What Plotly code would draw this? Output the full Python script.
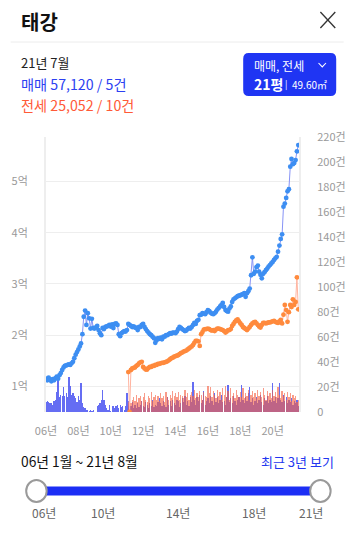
import plotly.graph_objects as go
import pandas as pd

# ---------------- data ----------------
months = pd.date_range("2006-01-01", "2021-08-01", freq="MS")  # 188 months

# 매매 average price (억)
sale_price = [
    1.15, 1.12, 1.17, 1.13, 1.10, 1.14, 1.12, 1.16, 1.19, 1.15, 1.22, 1.26,
    1.32, 1.37, 1.40, 1.41, 1.42, 1.43, 1.42, 1.45, 1.48, 1.55, 1.62, 1.67,
    1.72, 1.78, 1.84, 2.02, 2.36, 2.48, 2.20, 2.43, 2.33, 2.13, 2.32, 2.14,
    2.13, 2.15, 2.18, 2.10, 2.04, 2.00, 2.14, 2.12, 2.16, 2.17, 2.18, 2.20,
    2.17, 2.21, 2.14, 2.22, 2.23, 2.20, 2.02, 1.98, 2.04, 2.06, 2.08, 2.07,
    2.10, 2.22, 2.20, 2.18, 2.16, 2.17, 2.15, 2.14, 2.10, 2.16, 2.16, 2.20,
    2.22, 2.16, 2.12, 2.08, 2.05, 2.02, 2.00, 1.97, 1.94, 1.85, 1.90, 1.94,
    1.93, 1.95, 1.92, 1.97, 1.97, 2.00, 2.00, 2.02, 2.04, 2.03, 2.05, 2.05,
    2.04, 2.07, 2.12, 2.16, 2.14, 2.12, 2.10, 2.08, 2.09, 2.12, 2.14, 2.13,
    2.16, 2.20, 2.24, 2.22, 2.28, 2.30, 2.39, 2.40, 2.43, 2.42, 2.41, 2.45,
    2.49, 2.47, 2.44, 2.42, 2.41, 2.43, 2.46, 2.50, 2.53, 2.56, 2.59, 2.63,
    2.55, 2.49, 2.47, 2.46, 2.52, 2.56, 2.65, 2.70, 2.72, 2.74, 2.76, 2.77,
    2.78, 2.79, 2.80, 2.82, 2.75, 2.82, 2.86, 2.91, 3.17, 3.52, 3.20, 3.24,
    3.33, 3.36, 3.24, 3.18, 3.11, 3.20, 3.23, 3.27, 3.30, 3.34, 3.37, 3.40,
    3.43, 3.47, 3.50, 3.53, 3.63, 3.75, 3.88, 3.97, 4.51, 4.57, 4.68, 4.81,
    4.85, 5.29, 5.44, 5.34, 5.36, 5.42, 5.59, 5.712,
]

# 전세 average price (억)
rent_price = [None] * 61 + [
    1.28, 0.5, 1.32, 1.35, 1.36, 1.37, 1.40, 1.42, 1.45, 1.47, 1.48,
    1.38, 1.35, 1.33, 1.33, 1.36, 1.38, 1.38, 1.40, 1.40, 1.42, 1.42, 1.44,
    1.44, 1.45, 1.46, 1.46, 1.47, 1.48, 1.49, 1.51, 1.53, 1.55, 1.56, 1.58,
    1.59, 1.60, 1.61, 1.63, 1.65, 1.66, 1.68, 1.69, 1.70, 1.72, 1.74, 1.76,
    1.78, 1.81, 1.85, 1.89, 1.89, 1.88, 1.79, 2.02, 2.06, 2.11, 2.12, 2.12,
    2.13, 2.12, 2.10, 2.09, 2.10, 2.08, 2.11, 2.13, 2.13, 2.12, 2.11, 2.10,
    2.08, 2.05, 2.07, 2.10, 2.10, 2.12, 2.18, 2.22, 2.26, 2.29, 2.31, 2.27,
    2.23, 2.20, 2.16, 2.14, 2.12, 2.10, 2.13, 2.16, 2.20, 2.23, 2.25, 2.26,
    2.23, 2.20, 2.17, 2.15, 2.20, 2.24, 2.24, 2.23, 2.24, 2.25, 2.25, 2.26,
    2.27, 2.28, 2.26, 2.25, 2.24, 2.27, 2.30, 2.23, 2.40, 2.59, 2.49, 2.26,
    2.45, 2.59, 2.55, 2.70, 2.59, 2.65, 3.13, 2.505,
]

# 매매 transaction counts (건)
sale_count = [
    8, 9, 8, 7, 7, 6, 9, 10, 16, 28, 12, 14,
    13, 20, 13, 15, 12, 28, 21, 14, 15, 13, 11, 8,
    13, 10, 23, 7, 4, 3, 2, 2, 1, 2, 1, 2,
    0, 0, 5, 6, 7, 10, 18, 10, 6, 3, 2, 6,
    1, 5, 5, 3, 5, 6, 3, 6, 4, 5, 2, 5,
    15, 9, 4, 5, 8, 3, 6, 3, 7, 4, 6, 9,
    5, 4, 8, 6, 3, 7, 5, 10, 4, 6, 5, 8,
    11, 7, 5, 9, 6, 4, 12, 6, 9, 5, 10, 7,
    6, 10, 9, 4, 7, 11, 8, 13, 6, 9, 5, 12,
    8, 24, 10, 6, 12, 9, 14, 7, 10, 17, 6, 9,
    11, 7, 13, 9, 6, 15, 8, 12, 7, 10, 14, 8,
    9, 6, 12, 22, 8, 11, 7, 13, 9, 6, 10, 12,
    8, 22, 10, 7, 12, 9, 15, 20, 8, 11, 6, 9,
    12, 7, 10, 14, 8, 6, 11, 9, 13, 7, 10, 8,
    23, 9, 12, 7, 11, 23, 10, 8, 14, 9, 12, 7,
    10, 8, 11, 6, 9, 7, 10, 5,
]

# 전세 transaction counts (건)
rent_count = [None] * 61 + [
    8, 5, 7, 10, 12, 9, 14, 8, 11, 13, 9,
    12, 15, 10, 8, 13, 11, 16, 9, 12, 14, 10, 13,
    9, 15, 11, 13, 8, 16, 12, 10, 14, 11, 17, 13,
    15, 12, 16, 10, 14, 13, 11, 18, 12, 15, 10, 14,
    16, 13, 18, 11, 15, 12, 17, 14, 10, 16, 13, 12,
    21, 15, 20, 12, 17, 14, 11, 18, 13, 16, 10, 19,
    14, 21, 12, 17, 10, 19, 13, 15, 11, 18, 14, 12,
    16, 12, 19, 11, 15, 13, 18, 10, 14, 17, 12, 15,
    11, 18, 13, 16, 12, 19, 14, 10, 17, 13, 15, 11,
    18, 13, 16, 12, 20, 14, 11, 17, 13, 15, 10, 16,
    12, 15, 9, 14, 11, 13, 8, 10,
]

price_ticks = [1, 2, 3, 4, 5]
price_tick_text = ["1억", "2억", "3억", "4억", "5억"]
count_ticks = [0, 20, 40, 60, 80, 100, 120, 140, 160, 180, 200, 220]
count_tick_text = ["0", "20건", "40건", "60건", "80건", "100건", "120건",
                   "140건", "160건", "180건", "200건", "220건"]
x_tick_dates = ["2006-01-01", "2008-01-01", "2010-01-01", "2012-01-01",
                "2014-01-01", "2016-01-01", "2018-01-01", "2020-01-01"]
x_tick_text = ["06년", "08년", "10년", "12년", "14년", "16년", "18년", "20년"]
slider_labels = ["06년", "10년", "14년", "18년", "21년"]

# ---------------- layout helpers (pixel -> paper) ----------------
W, H = 358, 534
L, R, T, B = 38, 310, 137, 412
FONT = "Noto Sans CJK KR"


def PX(px):
    return (px - L) / (R - L)


def PY(py):
    return (B - py) / (B - T)


def pt(x, y):
    return f"{PX(x):.5f},{PY(y):.5f}"


def rounded_rect(x0, y0, x1, y1, r):
    return (f"M {pt(x0 + r, y0)} L {pt(x1 - r, y0)} Q {pt(x1, y0)} {pt(x1, y0 + r)} "
            f"L {pt(x1, y1 - r)} Q {pt(x1, y1)} {pt(x1 - r, y1)} "
            f"L {pt(x0 + r, y1)} Q {pt(x0, y1)} {pt(x0, y1 - r)} "
            f"L {pt(x0, y0 + r)} Q {pt(x0, y0)} {pt(x0 + r, y0)} Z")


fig = go.Figure()

fig.add_trace(go.Bar(x=months, y=sale_count, yaxis="y",
                     marker=dict(color="rgba(62,72,240,0.8)", line=dict(width=0)),
                     hoverinfo="skip"))
fig.add_trace(go.Bar(x=months, y=rent_count, yaxis="y",
                     marker=dict(color="rgba(246,96,66,0.62)", line=dict(width=0)),
                     hoverinfo="skip"))
fig.add_trace(go.Scatter(x=months, y=sale_price, yaxis="y2", mode="lines+markers",
                         line=dict(color="#8793f6", width=1),
                         marker=dict(color="#3d8ef2", size=4.8),
                         hoverinfo="skip"))
fig.add_trace(go.Scatter(x=months, y=rent_price, yaxis="y2", mode="lines+markers",
                         line=dict(color="#ffb4a0", width=1),
                         marker=dict(color="#ff8a3d", size=4.8),
                         hoverinfo="skip"))

shapes = []
# separator under title
shapes.append(dict(type="line", xref="paper", yref="paper",
                   x0=PX(0), x1=PX(W), y0=PY(42), y1=PY(42),
                   line=dict(color="#ececec", width=1)))
# close icon
shapes.append(dict(type="line", xref="paper", yref="paper",
                   x0=PX(333), y0=PY(12), x1=PX(349), y1=PY(28),
                   line=dict(color="#333333", width=1.3)))
shapes.append(dict(type="line", xref="paper", yref="paper",
                   x0=PX(349), y0=PY(12), x1=PX(333), y1=PY(28),
                   line=dict(color="#333333", width=1.3)))
# blue button
shapes.append(dict(type="path", xref="paper", yref="paper",
                   path=rounded_rect(250, 53, 350, 96, 6),
                   fillcolor="#1f35f3", line=dict(width=0)))
shapes.append(dict(type="path", xref="paper", yref="paper",
                   path=f"M {pt(331, 63)} L {pt(335, 67)} L {pt(339, 63)}",
                   line=dict(color="white", width=1.1)))
# slider
shapes.append(dict(type="line", xref="paper", yref="paper",
                   x0=PX(28), x1=PX(333), y0=PY(491), y1=PY(491),
                   line=dict(color="#1c2ef5", width=9)))
for cx in (27.7, 333):
    shapes.append(dict(type="circle", xref="paper", yref="paper",
                       x0=PX(cx - 11), x1=PX(cx + 11), y0=PY(491 + 11), y1=PY(491 - 11),
                       fillcolor="white", line=dict(color="#9a9a9a", width=2)))

ann = []


def text(x, y, s, size, color, anchor="left", bold=False):
    ann.append(dict(x=PX(x), y=PY(y), xref="paper", yref="paper",
                    text=f"<b>{s}</b>" if bold else s, showarrow=False,
                    xanchor=anchor, yanchor="middle",
                    font=dict(family=FONT, size=size, color=color)))


text(9, 22, "태강", 20, "#111111", bold=True)
text(9, 62, "21년 7월", 13, "#222222")
text(9, 84, "매매 57,120 / 5건", 14.2, "#2c3ff2")
text(9, 105, "전세 25,052 / 10건", 14.2, "#ff5a38")
text(259, 65, "매매, 전세", 12, "white")
text(259, 84, "21평", 14, "white", bold=True)
text(293, 84, "|", 9, "white")
text(300, 84.5, "49.60㎡", 10, "white")
text(9, 461, "06년 1월 ~ 21년 8월", 13.8, "#111111")
text(350, 461, "최근 3년 보기", 13, "#2236f0", anchor="right")
for lab, cx in zip(slider_labels, [36, 99, 180, 262, 323]):
    text(cx, 512, lab, 12, "#666666", anchor="center")

fig.update_layout(
    width=W, height=H, autosize=False,
    margin=dict(l=L, r=W - R, t=T, b=H - B, pad=0),
    paper_bgcolor="white", plot_bgcolor="white",
    showlegend=False, barmode="overlay", bargap=0.0,
    font=dict(family=FONT),
    xaxis=dict(type="date", range=["2006-01-01", "2021-08-17"],
               tickvals=x_tick_dates, ticktext=x_tick_text,
               showgrid=False, showline=False, zeroline=False, ticks="",
               tickfont=dict(size=11, color="#999999"), ticklabelstandoff=11,
               fixedrange=True),
    yaxis=dict(side="right", range=[0, 220], tickvals=count_ticks,
               ticktext=count_tick_text, showgrid=False, zeroline=False,
               showline=True, linecolor="#eeeeee", linewidth=2, ticks="",
               tickfont=dict(size=11, color="#999999"), ticklabelstandoff=14,
               fixedrange=True),
    yaxis2=dict(overlaying="y", side="left", range=[0.5, 5.87],
                tickvals=price_ticks, ticktext=price_tick_text,
                showgrid=True, gridcolor="#eeeeee", gridwidth=1, zeroline=False,
                showline=True, linecolor="#eeeeee", linewidth=2, ticks="",
                tickfont=dict(size=11, color="#999999"), ticklabelstandoff=14,
                fixedrange=True),
    shapes=shapes, annotations=ann,
)

fig.write_html(
    "out.html",
    config=dict(displayModeBar=False),
    post_script="document.body.style.margin='0';document.body.style.overflow='hidden';",
)
